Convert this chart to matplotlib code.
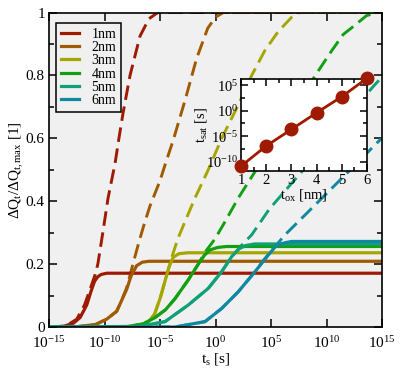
import numpy as np
import matplotlib
matplotlib.use("Agg")
import matplotlib.pyplot as plt
from matplotlib.ticker import FixedLocator, NullLocator

plt.rcParams['font.family'] = ['Liberation Serif', 'DejaVu Serif']
plt.rcParams['mathtext.fontset'] = 'custom'
plt.rcParams['mathtext.rm'] = 'Liberation Serif'
plt.rcParams['mathtext.it'] = 'Liberation Serif:italic'

# values, time as log10(t_s / s)
labels = ["1nm", "2nm", "3nm", "4nm", "5nm", "6nm"]
colors = ["#9e1a00", "#a05a00", "#a6a600", "#12a012", "#10a078", "#1088a0"]

t1_dash = [-15, -13.5, -12.5, -11.8, -11.3, -10.86, -10.6, -10.14, -9.68, -9.05, -8.7, -8.33, -7.7, -6.8, -6.0, -5.2, 15]
q1_dash = [0, 0.003, 0.025, 0.07, 0.12, 0.165, 0.2, 0.303, 0.41, 0.52, 0.6, 0.68, 0.8, 0.925, 0.98, 1.0, 1.0]
t1_solid = [-15, -13.7, -12.8, -12.2, -11.6, -11.2, -10.9, -10.6, -10.3, -9.8, 15]
q1_solid = [0, 0.002, 0.012, 0.03, 0.07, 0.115, 0.145, 0.16, 0.167, 0.171, 0.171]

t2_dash = [-15, -12.5, -10.8, -9.8, -8.9, -8.45, -8.0, -7.4, -6.9, -6.4, -5.9, -5.45, -5.0, -4.55, -3.8, -2.75, -1.7, -0.7, 0.0, 0.7, 15]
q2_dash = [0, 0.001, 0.008, 0.025, 0.05, 0.085, 0.125, 0.205, 0.27, 0.33, 0.385, 0.425, 0.465, 0.515, 0.595, 0.72, 0.854, 0.95, 0.985, 1.0, 1.0]
t2_solid = [-15, -12.5, -10.8, -9.8, -8.9, -8.45, -8.0, -7.6, -7.1, -6.6, -6.0, 15]
q2_solid = [0, 0.001, 0.008, 0.025, 0.05, 0.085, 0.12, 0.163, 0.195, 0.206, 0.209, 0.209]

t3_dash = [-15, -7.5, -6.2, -5.5, -5.0, -4.5, -4.0, -3.4, -2.75, -1.85, -0.65, 0.56, 2.05, 3.26, 4.46, 5.66, 6.86, 7.6, 15]
q3_dash = [0, 0.002, 0.01, 0.04, 0.09, 0.15, 0.215, 0.28, 0.335, 0.41, 0.5, 0.6, 0.706, 0.8, 0.88, 0.94, 0.985, 1.0, 1.0]
t3_solid = [-15, -7.5, -6.2, -5.5, -5.0, -4.6, -4.2, -3.8, -3.3, -2.5, 15]
q3_solid = [0, 0.002, 0.01, 0.04, 0.09, 0.14, 0.19, 0.222, 0.233, 0.236, 0.236]

t4_dash = [-15, -8.0, -6.5, -5.45, -4.5, -3.65, -2.45, -1.55, -1.0, -0.05, 0.86, 2.05, 3.56, 9.12, 10.5, 11.5, 12.57, 13.6, 14.6, 15]
q4_dash = [0, 0.001, 0.01, 0.03, 0.055, 0.09, 0.15, 0.2, 0.235, 0.28, 0.335, 0.41, 0.494, 0.807, 0.88, 0.93, 0.96, 0.99, 1.0, 1.0]
t4_solid = [-15, -8.0, -6.5, -5.45, -4.5, -3.65, -2.45, -1.55, -1.0, -0.5, 0.2, 1.0, 15]
q4_solid = [0, 0.001, 0.01, 0.03, 0.055, 0.09, 0.15, 0.2, 0.228, 0.245, 0.253, 0.256, 0.256]

t5_dash = [-15, -7.0, -4.55, -2.45, -0.65, 0.56, 1.46, 2.36, 3.26, 4.85, 7.77, 14.19, 15]
q5_dash = [0, 0.001, 0.017, 0.07, 0.123, 0.176, 0.224, 0.26, 0.293, 0.375, 0.494, 0.764, 0.795]
t5_solid = [-15, -7.0, -4.55, -2.45, -0.65, 0.56, 1.46, 2.1, 2.7, 3.5, 15]
q5_solid = [0, 0.001, 0.017, 0.07, 0.123, 0.176, 0.224, 0.248, 0.259, 0.264, 0.264]

t6_dash = [-15, -3.65, -0.95, 0.56, 2.05, 3.56, 4.46, 6.26, 8.06, 10.16, 11.67, 14.82, 15]
q6_dash = [0, 0.0, 0.017, 0.059, 0.112, 0.176, 0.218, 0.293, 0.356, 0.43, 0.483, 0.595, 0.6]
t6_solid = [-15, -3.65, -0.95, 0.56, 2.05, 3.56, 4.76, 5.5, 6.26, 6.86, 15]
q6_solid = [0, 0.0, 0.017, 0.059, 0.112, 0.176, 0.229, 0.26, 0.268, 0.272, 0.272]

dash_t = [t1_dash, t2_dash, t3_dash, t4_dash, t5_dash, t6_dash]
dash_q = [q1_dash, q2_dash, q3_dash, q4_dash, q5_dash, q6_dash]
solid_t = [t1_solid, t2_solid, t3_solid, t4_solid, t5_solid, t6_solid]
solid_q = [q1_solid, q2_solid, q3_solid, q4_solid, q5_solid, q6_solid]

# inset: saturation time vs oxide thickness
t_ox = [1, 2, 3, 4, 5, 6]
log_t_sat = [-10.84, -6.9, -3.65, -0.4, 2.75, 6.35]

x_ticks = [-15, -10, -5, 0, 5, 10, 15]
y_ticks = [0, 0.2, 0.4, 0.6, 0.8, 1.0]
y_ticklabels = ["0", "0.2", "0.4", "0.6", "0.8", "1"]

fig = plt.figure(figsize=(4, 3.71), dpi=100)
ax = fig.add_axes([0.1225, 0.1186, 0.8325, 0.8477])
ax.set_facecolor("#f0f0f0")

for i in range(6):
    ax.plot(10.0 ** np.array(dash_t[i]), dash_q[i], color=colors[i], lw=2.1,
            linestyle=(0, (5, 2.3)))
for i in range(6):
    ax.plot(10.0 ** np.array(solid_t[i]), solid_q[i], color=colors[i], lw=2.3,
            label=labels[i])

ax.set_xscale("log")
ax.set_xlim(1e-15, 1e15)
ax.set_ylim(0, 1)
ax.xaxis.set_major_locator(FixedLocator([10.0 ** k for k in x_ticks]))
ax.xaxis.set_minor_locator(NullLocator())
ax.set_xticklabels(["$10^{%d}$" % k for k in x_ticks])
ax.set_yticks(y_ticks)
ax.set_yticklabels(y_ticklabels)
ax.set_yticks(np.arange(0.1, 1.0, 0.2), minor=True)
ax.tick_params(which="both", direction="in", top=True, right=True, labelsize=11, width=1.1)
ax.tick_params(axis="x", pad=6)
ax.tick_params(axis="y", pad=3)
ax.tick_params(which="major", length=6)
ax.tick_params(which="minor", length=3.5)
for s in ax.spines.values():
    s.set_linewidth(1.2)
ax.set_xlabel("t$_\\mathrm{s}$ [s]", fontsize=11, labelpad=0)
ax.set_ylabel("$\\mathrm{\\Delta Q_t/\\Delta Q_{t,max}}$ [1]", fontsize=11, labelpad=0)

leg = ax.legend(loc="upper left", bbox_to_anchor=(0.021, 0.967), borderaxespad=0,
                fontsize=10, frameon=True, fancybox=False, edgecolor="black",
                framealpha=1, handlelength=1.3, labelspacing=0.02, borderpad=0.35,
                handletextpad=0.9)
leg.get_frame().set_linewidth(1.1)
leg.get_frame().set_facecolor("#f0f0f0")

# inset
ins = fig.add_axes([0.6025, 0.539, 0.315, 0.248])
ins.plot(t_ox, 10.0 ** np.array(log_t_sat), color="#9e1a00", lw=2, marker="o",
         markersize=9, clip_on=False, zorder=5)
ins.set_yscale("log")
ins.set_xlim(1, 6)
ins.set_ylim(10 ** -11.8, 10 ** 6.2)
ins.set_xticks(t_ox)
ins.set_xticks(np.arange(1.5, 6, 1.0), minor=True)
ins.yaxis.set_major_locator(FixedLocator([1e-10, 1e-5, 1e0, 1e5]))
ins.yaxis.set_minor_locator(FixedLocator([10 ** -7.5, 10 ** -2.5, 10 ** 2.5]))
ins.set_yticklabels(["$10^{-10}$", "$10^{-5}$", "$10^{0}$", "$10^{5}$"])
ins.tick_params(which="both", direction="in", top=True, right=True, labelsize=10.5, width=1.1, pad=2)
ins.tick_params(which="major", length=5)
ins.tick_params(which="minor", length=3)
for s in ins.spines.values():
    s.set_linewidth(1.2)
ins.set_xlabel("t$_\\mathrm{ox}$ [nm]", fontsize=10.5, labelpad=0)
ins.set_ylabel("t$_\\mathrm{sat}$ [s]", fontsize=10.5, labelpad=-2)

fig.savefig("out.png", dpi=100)
